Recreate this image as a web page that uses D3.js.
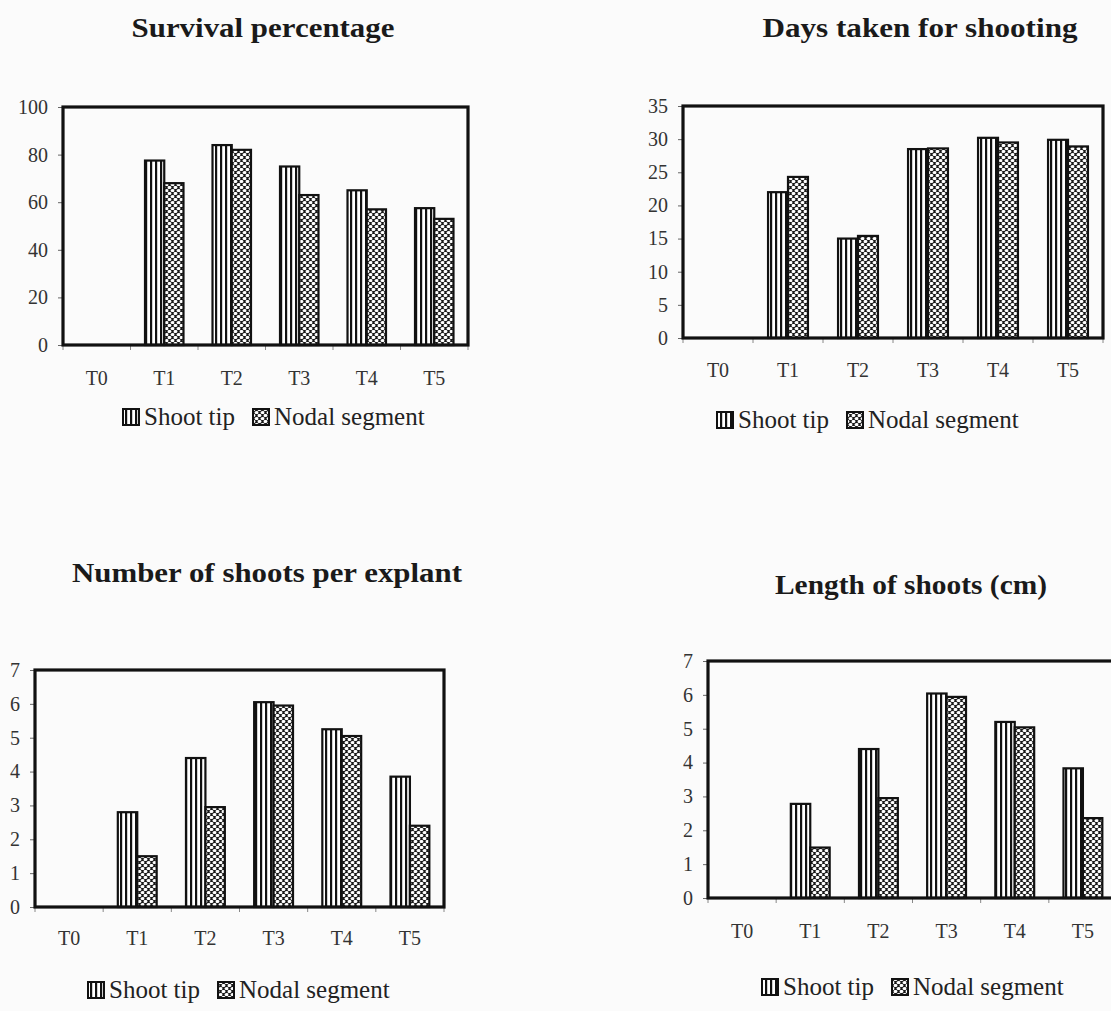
<!DOCTYPE html>
<html>
<head>
<meta charset="utf-8">
<script src="https://cdn.jsdelivr.net/npm/d3@7"></script>
<style>
  html, body { margin: 0; padding: 0; background: #fbfbfb; }
  svg { display: block; }
  text { font-family: "Liberation Serif", "Times New Roman", serif; }
</style>
</head>
<body>
<svg id="chart" width="1111" height="1011"></svg>
<script>
// Treatments
const categories = ["T0", "T1", "T2", "T3", "T4", "T5"];
const seriesNames = ["Shoot tip", "Nodal segment"];

// Survival percentage
const survivalShootTip = [0, 77.5, 84, 75, 65, 57.5];
const survivalNodal = [0, 68, 82, 63, 57, 53];
const survivalTicks = [0, 20, 40, 60, 80, 100];

// Days taken for shooting
const daysShootTip = [0, 22, 15, 28.5, 30.2, 29.9];
const daysNodal = [0, 24.3, 15.4, 28.6, 29.5, 28.9];
const daysTicks = [0, 5, 10, 15, 20, 25, 30, 35];

// Number of shoots per explant
const shootsShootTip = [0, 2.8, 4.4, 6.05, 5.25, 3.85];
const shootsNodal = [0, 1.5, 2.95, 5.95, 5.05, 2.4];
const shootsTicks = [0, 1, 2, 3, 4, 5, 6, 7];

// Length of shoots (cm)
const lengthShootTip = [0, 2.78, 4.4, 6.04, 5.2, 3.83];
const lengthNodal = [0, 1.49, 2.95, 5.94, 5.04, 2.36];
const lengthTicks = [0, 1, 2, 3, 4, 5, 6, 7];

const svg = d3.select("#chart");
const defs = svg.append("defs");

// Vertical stripes for shoot tip bars
const stripes = defs.append("pattern")
  .attr("id", "stripes").attr("patternUnits", "userSpaceOnUse")
  .attr("width", 5).attr("height", 5);
stripes.append("rect").attr("width", 5).attr("height", 5).attr("fill", "#fff");
stripes.append("rect").attr("x", 0).attr("width", 2.2).attr("height", 5).attr("fill", "#111");

// Woven dot texture for nodal segment bars
const weave = defs.append("pattern")
  .attr("id", "weave").attr("patternUnits", "userSpaceOnUse")
  .attr("width", 6).attr("height", 6);
weave.append("rect").attr("width", 6).attr("height", 6).attr("fill", "#1a1a1a");
[[1.5, 1.5], [4.5, 4.5], [7.5, 1.5], [-1.5, 4.5]].forEach(([cx, cy]) =>
  weave.append("ellipse").attr("cx", cx).attr("cy", cy)
    .attr("rx", 1.9).attr("ry", 1.6).attr("fill", "#fff"));

const fills = ["url(#stripes)", "url(#weave)"];

const panels = [
  { title: "Survival percentage", shoot: survivalShootTip, nodal: survivalNodal, ticks: survivalTicks,
    box: { left: 63, top: 107, right: 468, bottom: 345 }, titleX: 263, titleY: 37, titleW: 263,
    xLabelY: 385, legendX: 123, legendY: 425 },
  { title: "Days taken for shooting", shoot: daysShootTip, nodal: daysNodal, ticks: daysTicks,
    box: { left: 683, top: 106, right: 1103, bottom: 338 }, titleX: 920, titleY: 37, titleW: 315,
    xLabelY: 377, legendX: 717, legendY: 428 },
  { title: "Number of shoots per explant", shoot: shootsShootTip, nodal: shootsNodal, ticks: shootsTicks,
    box: { left: 35, top: 670, right: 444, bottom: 907 }, titleX: 267, titleY: 582, titleW: 390,
    xLabelY: 945, legendX: 88, legendY: 998 },
  { title: "Length of shoots (cm)", shoot: lengthShootTip, nodal: lengthNodal, ticks: lengthTicks,
    box: { left: 708, top: 661, right: 1117, bottom: 898 }, titleX: 911, titleY: 594, titleW: 272,
    xLabelY: 938, legendX: 762, legendY: 995 }
];

panels.forEach(p => {
  const b = p.box;
  const g = svg.append("g");

  const x = d3.scaleBand().domain(categories).range([b.left, b.right]).padding(0);
  const bw = x.bandwidth();
  const pairW = bw * 0.57;
  const xs = d3.scaleBand().domain(seriesNames).range([(bw - pairW) / 2, (bw + pairW) / 2]).padding(0);
  const y = d3.scaleLinear().domain([0, d3.max(p.ticks)]).range([b.bottom, b.top]);

  // Title
  g.append("text")
    .attr("x", p.titleX).attr("y", p.titleY)
    .attr("text-anchor", "middle")
    .attr("font-size", 28).attr("font-weight", "bold")
    .attr("textLength", p.titleW).attr("lengthAdjust", "spacingAndGlyphs")
    .attr("fill", "#1a1a1a")
    .text(p.title);

  // Y axis ticks and labels
  const yAxis = d3.axisLeft(y).tickValues(p.ticks).tickSize(5).tickPadding(10).tickFormat(d3.format("d"));
  const ya = g.append("g").attr("transform", `translate(${b.left},0)`).call(yAxis);
  ya.select(".domain").remove();
  ya.selectAll(".tick line").attr("stroke", "#666").attr("stroke-width", 1);
  ya.selectAll(".tick text").attr("font-size", 20).attr("fill", "#333")
    .attr("font-family", "Liberation Serif, serif");

  // X axis: small ticks at band edges, labels under each band
  const edges = d3.range(categories.length + 1).map(i => b.left + i * bw);
  g.selectAll(".xtick").data(edges).join("line")
    .attr("x1", d => d).attr("x2", d => d)
    .attr("y1", b.bottom).attr("y2", b.bottom + 5)
    .attr("stroke", "#888").attr("stroke-width", 1);
  g.selectAll(".xlabel").data(categories).join("text")
    .attr("x", d => x(d) + bw / 2).attr("y", p.xLabelY)
    .attr("text-anchor", "middle")
    .attr("font-size", 20).attr("fill", "#333")
    .text(d => d);

  // Bars
  const rows = categories.map((c, i) => ({ c, vals: [p.shoot[i], p.nodal[i]] }));
  rows.forEach(r => {
    r.vals.forEach((v, si) => {
      if (v <= 0) return;
      g.append("rect")
        .attr("x", x(r.c) + xs(seriesNames[si]))
        .attr("y", y(v))
        .attr("width", xs.bandwidth())
        .attr("height", y(0) - y(v))
        .attr("fill", fills[si])
        .attr("stroke", "#111").attr("stroke-width", 2.2);
    });
  });

  // Plot frame
  g.append("rect")
    .attr("x", b.left).attr("y", b.top)
    .attr("width", b.right - b.left).attr("height", b.bottom - b.top)
    .attr("fill", "none").attr("stroke", "#111").attr("stroke-width", 3.2);

  // Legend
  const lg = g.append("g");
  let cx = p.legendX;
  seriesNames.forEach((name, si) => {
    lg.append("rect")
      .attr("x", cx).attr("y", p.legendY - 16)
      .attr("width", 16).attr("height", 16)
      .attr("fill", fills[si]).attr("stroke", "#111").attr("stroke-width", 2);
    const t = lg.append("text")
      .attr("x", cx + 21).attr("y", p.legendY)
      .attr("font-size", 25).attr("fill", "#222")
      .text(name);
    cx += 21 + t.node().getComputedTextLength() + 18;
  });
});
</script>
</body>
</html>
